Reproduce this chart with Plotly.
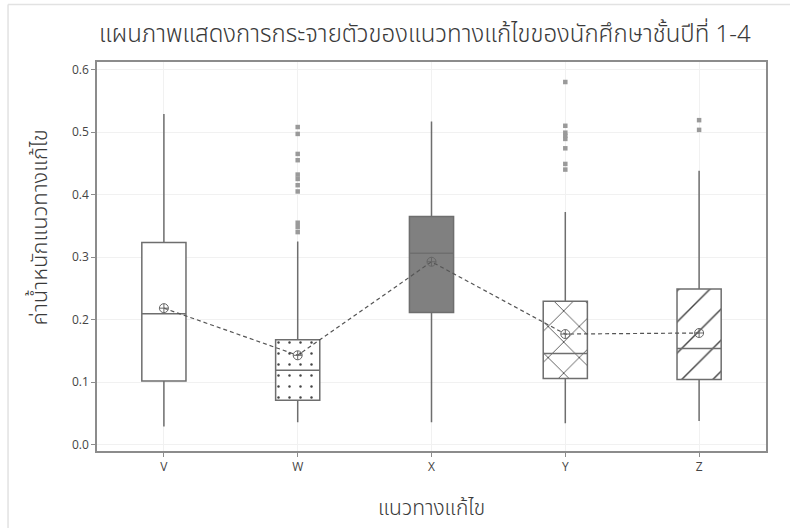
import plotly.graph_objects as go

# Solution categories
categories = ["V", "W", "X", "Y", "Z"]

# Five-number summaries per category
q1 = [0.102, 0.071, 0.2115, 0.106, 0.1045]
median = [0.2094, 0.119, 0.306, 0.1458, 0.1537]
q3 = [0.3234, 0.168, 0.365, 0.2296, 0.249]
lower_fence = [0.029, 0.036, 0.036, 0.0345, 0.038]
upper_fence = [0.529, 0.325, 0.517, 0.372, 0.438]
means = [0.2184, 0.143, 0.2926, 0.177, 0.1787]

# Outlying observations
w_outliers = [0.508, 0.497, 0.465, 0.455, 0.432, 0.425, 0.415, 0.405, 0.355, 0.348, 0.340]
y_outliers = [0.580, 0.510, 0.499, 0.494, 0.489, 0.474, 0.449, 0.440]
z_outliers = [0.519, 0.5035]

title_text = "แผนภาพแสดงการกระจายตัวของแนวทางแก้ไขของนักศึกษาชั้นปีที่ 1-4"
x_title = "แนวทางแก้ไข"
y_title = "ค่าน้ำหนักแนวทางแก้ไข"

thai_font = "Tahoma, 'Noto Sans Thai', 'Leelawadee UI', 'Noto Sans', sans-serif"
tick_font = "'Open Sans', 'Noto Sans', sans-serif"
line_gray = "#6e6e6e"
box_width = 0.33

fig = go.Figure()

# Patterned box bodies (interquartile range)
fill_colors = ["white", "white", "#808080", "white", "white"]
fig.add_trace(go.Bar(
    x=categories,
    base=q1,
    y=[b - a for a, b in zip(q1, q3)],
    width=box_width,
    marker=dict(
        color=fill_colors,
        line=dict(width=0),
        pattern=dict(
            shape=["", ".", "", "x", "/"],
            fgcolor="#5a5a5a",
            fgopacity=1,
            bgcolor=fill_colors,
            size=[10, 11, 10, 22, 22],
            solidity=[0.1, 0.04, 0.1, 0.075, 0.065],
            fillmode="overlay",
        ),
    ),
    showlegend=False,
    hoverinfo="skip",
))

# Box outlines, medians and whiskers
fig.add_trace(go.Box(
    x=categories,
    q1=q1,
    median=median,
    q3=q3,
    lowerfence=lower_fence,
    upperfence=upper_fence,
    width=box_width,
    whiskerwidth=0,
    fillcolor="rgba(0,0,0,0)",
    line=dict(color=line_gray, width=1.5),
    boxpoints=False,
    showlegend=False,
))

# Outliers
out_x = ["W"] * len(w_outliers) + ["Y"] * len(y_outliers) + ["Z"] * len(z_outliers)
out_y = w_outliers + y_outliers + z_outliers
fig.add_trace(go.Scatter(
    x=out_x, y=out_y, mode="markers",
    marker=dict(symbol="square", size=4.5, color="#9a9a9a"),
    showlegend=False,
))

# Mean connect line with mean symbols
fig.add_trace(go.Scatter(
    x=categories, y=means, mode="lines+markers",
    line=dict(color="#555555", width=1.2, dash="4px,3px"),
    marker=dict(symbol="circle-cross-open", size=9, color="#666666", line=dict(width=1)),
    showlegend=False,
))

# Light page frame lines
fig.add_shape(type="line", xref="paper", yref="paper", x0=-0.133, x1=-0.133, y0=-0.2, y1=1.148,
              line=dict(color="#e2e2e2", width=1.5))
fig.add_shape(type="line", xref="paper", yref="paper", x0=-0.133, x1=1.05, y0=1.148, y1=1.148,
              line=dict(color="#e2e2e2", width=1.5))

# Vertical axis title
fig.add_annotation(
    text=y_title, textangle=-90, showarrow=False,
    xref="paper", yref="paper", x=-0.085, y=0.575,
    xanchor="center", yanchor="middle",
    font=dict(family=thai_font, size=22, color="#3a3a3a", weight=300),
)

axis_common = dict(
    showline=True, mirror=True, linecolor="#8c8c8c", linewidth=1.5,
    ticks="outside", ticklen=4, tickcolor="#8c8c8c", tickwidth=1,
    showgrid=True, gridcolor="#f1f1f1", gridwidth=1,
    zeroline=False,
    tickfont=dict(family=tick_font, size=12, color="#444444"),
)

fig.update_layout(
    width=790, height=528,
    margin=dict(l=97, r=24, t=62, b=75),
    paper_bgcolor="white", plot_bgcolor="white",
    bargap=0,
    title=dict(text=title_text, x=0.49, xref="paper", xanchor="center",
               y=0.937, yref="container", yanchor="middle",
               font=dict(family=thai_font, size=24, color="#3a3a3a", weight=300)),
    xaxis=dict(
        **axis_common,
        range=[-0.5, 4.5],
        title=dict(text=x_title, standoff=26,
                   font=dict(family=thai_font, size=21, color="#3a3a3a", weight=300)),
    ),
    yaxis=dict(
        **axis_common,
        range=[-0.01, 0.612],
        dtick=0.1, tick0=0, tickformat=".1f",
    ),
)

fig.write_html("out.html")
